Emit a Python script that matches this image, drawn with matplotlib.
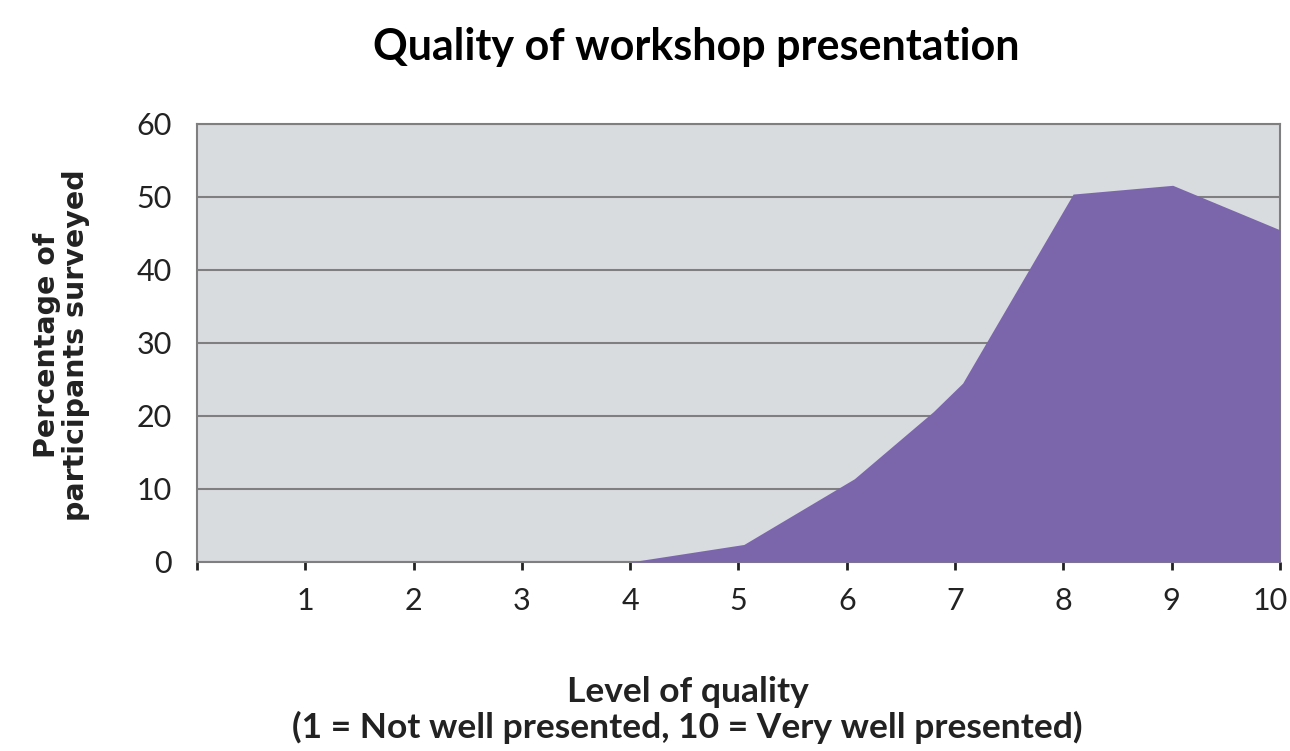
import matplotlib.pyplot as plt
import matplotlib.transforms as mtransforms

# Quality level (x) and percentage of participants surveyed (y)
quality_x = [4.0, 5.05, 6.07, 6.8, 7.07, 8.09, 9.01, 10.0]
percent_y = [0.0, 2.4, 11.4, 20.6, 24.5, 50.4, 51.6, 45.5]

x_ticks = list(range(0, 11))
x_tick_labels = [''] + [str(i) for i in range(1, 11)]
y_ticks = [0, 10, 20, 30, 40, 50, 60]

FILL_COLOR = '#7B66AC'
BG_COLOR = '#D9DCDF'
GRID_COLOR = '#7F7F7F'
TEXT_COLOR = '#222222'

plt.rcParams['font.family'] = ['Lato', 'DejaVu Sans']

fig = plt.figure(figsize=(12.9, 7.51), dpi=100)
ax = fig.add_axes([0.1527, 0.2517, 0.8395, 0.5832])
ax.set_facecolor(BG_COLOR)

ax.fill_between(quality_x, percent_y, 0, color=FILL_COLOR, linewidth=0, zorder=3)

ax.set_xlim(0, 10)
ax.set_ylim(0, 60)
ax.set_xticks(x_ticks)
ax.set_xticklabels(x_tick_labels)
ax.set_yticks(y_ticks)

ax.yaxis.grid(True, color=GRID_COLOR, linewidth=1.5, zorder=1)
ax.set_axisbelow(True)

for side in ['top', 'right', 'left', 'bottom']:
    ax.spines[side].set_color(GRID_COLOR)
    ax.spines[side].set_linewidth(1.5)

ax.tick_params(axis='x', direction='out', length=6, width=2, color=TEXT_COLOR,
               labelsize=22, pad=12, labelcolor=TEXT_COLOR)
ax.tick_params(axis='y', length=0, labelsize=22, pad=18, labelcolor=TEXT_COLOR)

# nudge the "10" label left so it stays inside the figure
last_label = ax.xaxis.get_major_ticks()[-1].label1
last_label.set_transform(last_label.get_transform() +
                         mtransforms.ScaledTranslation(-7 / 72, 0, fig.dpi_scale_trans))

fig.text(0.5395, 0.937, 'Quality of workshop presentation', ha='center', va='center',
         fontsize=31, fontweight='bold', color='black')
fig.text(0.533, 0.055, 'Level of quality\n(1 = Not well presented, 10 = Very well presented)',
         ha='center', va='center', fontsize=25.5, fontweight='bold', color=TEXT_COLOR,
         linespacing=1.1)
fig.text(0.048, 0.54, 'Percentage of\nparticipants surveyed', ha='center', va='center',
         rotation=90, fontsize=20.5, fontweight='bold', color=TEXT_COLOR,
         linespacing=1.05, family=['DejaVu Sans'])

fig.savefig('out.png', dpi=100)
